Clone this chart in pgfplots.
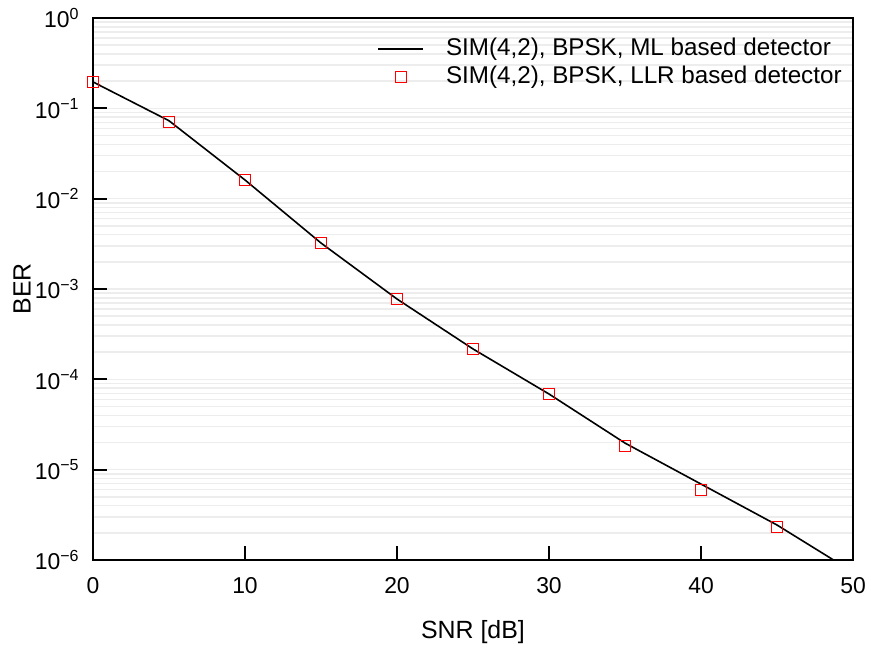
\documentclass[border=0pt]{standalone}
\usepackage{fontspec}
\setmainfont{Liberation Sans}
\usepackage{pgfplots}
\pgfplotsset{compat=1.18}
\begin{document}
\fontsize{12}{14}\selectfont
\begin{tikzpicture}
\begin{axis}[
  scale only axis,
  width=380bp, height=271bp,
  at={(0,0)}, anchor=south west,
  ymode=log,
  xmin=0, xmax=50, ymin=1e-6, ymax=1,
  xtick={0,10,20,30,40,50},
  xticklabels={0,10,20,30,40,50},
  ytick={1e-6,1e-5,1e-4,1e-3,1e-2,1e-1,1},
  yticklabels={10\textsuperscript{−6},10\textsuperscript{−5},10\textsuperscript{−4},10\textsuperscript{−3},10\textsuperscript{−2},10\textsuperscript{−1},10\textsuperscript{0}},
  xtick pos=bottom, ytick pos=left,
  tick align=inside,
  major tick length=7bp, minor tick length=0pt,
  every tick/.style={black, line width=1bp},
  axis line style={line width=1bp},
  yminorgrids=true, ymajorgrids=false, xmajorgrids=false,
  minor grid style={black!7, line width=0.75bp},
  tick label style={font=\fontsize{11.5}{13.5}\selectfont},
  xticklabel style={yshift=-4.5bp},
  yticklabel style={xshift=-2.5bp},
  xlabel={SNR [dB]}, ylabel={BER},
  every axis x label/.style={at={(axis description cs:0.5,-0.1328)}, anchor=center, font=\fontsize{12.5}{14.5}\selectfont},
  every axis y label/.style={at={(axis description cs:-0.0934,0.5)}, rotate=90, anchor=center, font=\fontsize{12.5}{14.5}\selectfont},
  legend image code/.code={\draw[mark repeat=2,mark phase=2,#1] plot coordinates {(0bp,0bp)(11.25bp,0bp)(22.5bp,0bp)}; \path (33bp,0bp);},
  legend style={draw=none, fill=none, at={(1,1)}, anchor=north east, xshift=-2bp, yshift=-7.5bp,
    font=\fontsize{12.15}{14}\selectfont, row sep=2.3bp,
    nodes={inner sep=0.5bp}},
  legend cell align=left,
]
\addplot[black, line width=0.8bp] coordinates {
(0,0.196) (5,0.0729) (10,0.0161) (15,0.00323) (20,7.75e-4) (25,2.17e-4)
(30,6.88e-5) (35,1.97e-5) (40,6.93e-6) (45,2.44e-6) (50,7.36e-7)};
\addlegendentry{SIM(4,2), BPSK, ML based detector}
\addplot[only marks, mark=square, mark size=2.75bp, red, mark options={line width=0.6bp}] coordinates {
(0,0.197) (5,0.0706) (10,0.0161) (15,0.003254) (20,7.69e-4) (25,2.17e-4)
(30,6.83e-5) (35,1.81e-5) (40,6.0e-6) (45,2.34e-6)};
\addlegendentry{SIM(4,2), BPSK, LLR based detector}
\end{axis}
\pgfresetboundingbox
\path[use as bounding box] (-46.5bp,-45bp) rectangle (389bp,280bp);
\end{tikzpicture}
\end{document}
